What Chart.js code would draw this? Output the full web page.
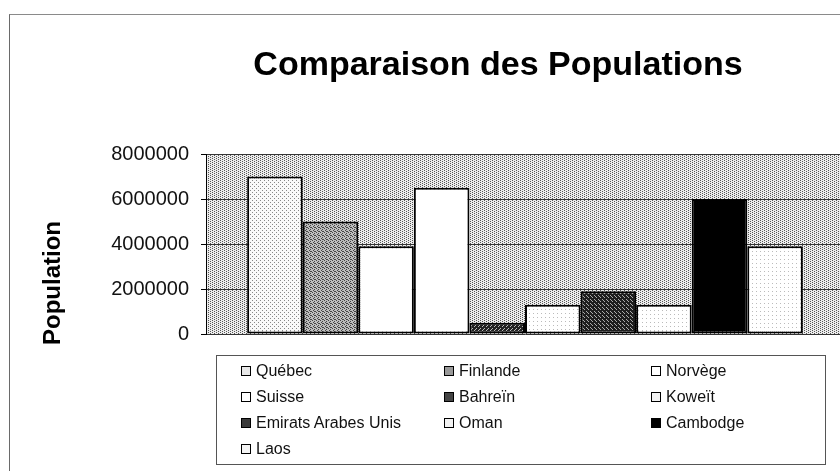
<!DOCTYPE html>
<html>
<head>
<meta charset="utf-8">
<script src="https://cdn.jsdelivr.net/npm/chart.js@4/dist/chart.umd.min.js"></script>
<style>
  html, body { margin:0; padding:0; width:840px; height:471px; overflow:hidden; background:#fff; }
  #wrap { position:absolute; left:0; top:0; width:850px; height:471px; }
  #frame { position:absolute; left:9px; top:14px; width:840px; height:460px; border-top:1px solid #8a8a8a; border-left:1px solid #6a6a6a; box-sizing:border-box; pointer-events:none; }
  #legend { position:absolute; left:216px; top:355px; width:610px; height:110px; border:1px solid #555; box-sizing:border-box;
            display:grid; grid-template-columns:203px 207px 1fr; grid-auto-rows:26px; padding:2px 0 0 24px;
            font-family:"Liberation Sans", Arial, sans-serif; font-size:16px; color:#111; }
  .item { display:flex; align-items:center; }
  .sw { width:8px; height:8px; border:1.5px solid #000; margin-right:5px; flex:none; }
</style>
</head>
<body>
<div id="wrap"><canvas id="c" width="850" height="471"></canvas></div>
<div id="frame"></div>
<div id="legend"></div>
<script>
// ---- data ----
const chartTitle = "Comparaison des Populations";
const yTitle = "Population";
const countries = ["Québec", "Finlande", "Norvège", "Suisse", "Bahreïn", "Koweït", "Emirats Arabes Unis", "Oman", "Cambodge", "Laos"];
const populations = [7000000, 5000000, 3900000, 6500000, 500000, 1300000, 1900000, 1300000, 6000000, 3900000];
const yTickValues = [0, 2000000, 4000000, 6000000, 8000000];

// ---- styles ----
const FONT = '"Liberation Sans", Arial, sans-serif';
function pat(bg, fg, pts, size) {
  const c = document.createElement('canvas'); c.width = c.height = size;
  const g = c.getContext('2d');
  g.fillStyle = bg; g.fillRect(0, 0, size, size);
  g.fillStyle = fg; pts.forEach(p => g.fillRect(p[0], p[1], 1, 1));
  return g.createPattern(c, 'repeat');
}
const plotBg = pat('#ececec', '#555', [[0,0],[2,1],[0,2],[2,3]], 4);
const fills = [
  pat('#fafafa', '#888', [[0,0],[2,2]], 4),
  pat('#bdbdbd', '#444', [[0,0],[2,1],[1,2],[3,3],[2,3]], 4),
  '#ffffff',
  '#ffffff',
  pat('#222', '#bbb', [[0,0],[2,2],[3,1]], 4),
  pat('#ffffff', '#bbb', [[1,1]], 4),
  pat('#1e1e1e', '#aaa', [[0,1],[2,3],[3,0]], 4),
  pat('#ffffff', '#bbb', [[2,2]], 4),
  '#000000',
  pat('#ffffff', '#bbb', [[0,3]], 4)
];
const swatchCss = ['#e8e8e8', '#999', '#fff', '#fff', '#444', '#f2f2f2', '#3a3a3a', '#f2f2f2', '#000', '#f4f4f4'];

const bgPlugin = {
  id: 'plotBg',
  beforeDraw(chart) {
    const a = chart.chartArea, ctx = chart.ctx;
    ctx.save(); ctx.fillStyle = plotBg; ctx.fillRect(a.left, a.top, a.right - a.left, a.bottom - a.top); ctx.restore();
  }
};
const titlesPlugin = {
  id: 'titles',
  afterDraw(chart) {
    const ctx = chart.ctx;
    ctx.save();
    ctx.fillStyle = '#000';
    ctx.textAlign = 'center'; ctx.textBaseline = 'middle';
    ctx.font = 'bold 34px ' + FONT;
    ctx.fillText(chartTitle, 498, 66);
    ctx.translate(53, 283); ctx.rotate(-Math.PI / 2);
    ctx.font = 'bold 24px ' + FONT;
    ctx.fillText(yTitle, 0, 0);
    ctx.restore();
  }
};

const datasets = countries.map((name, i) => ({
  label: name,
  data: [populations[i]],
  backgroundColor: fills[i],
  borderColor: '#000',
  borderWidth: 2,
  borderSkipped: false,
  categoryPercentage: 0.871,
  barPercentage: 1
}));

new Chart(document.getElementById('c'), {
  type: 'bar',
  data: { labels: [''], datasets },
  options: {
    responsive: false,
    animation: false,
    devicePixelRatio: 1,
    layout: { padding: { top: 154, bottom: 137, left: 0, right: 6 } },
    plugins: { legend: { display: false }, title: { display: false }, tooltip: { enabled: false } },
    scales: {
      x: { display: false, offset: true },
      y: {
        min: 0, max: 8000000,
        afterFit(scale) { scale.width = 206; },
        afterBuildTicks(scale) { scale.ticks = yTickValues.map(v => ({ value: v })); },
        ticks: { color: '#111', font: { family: FONT, size: 20 }, padding: 12, callback: v => String(v) },
        grid: { color: '#333', lineWidth: 1, drawTicks: true, tickLength: 5, tickColor: '#000' },
        border: { display: true, color: '#000', width: 1 }
      }
    }
  },
  plugins: [bgPlugin, titlesPlugin]
});

// HTML legend built from the data arrays
const leg = document.getElementById('legend');
countries.forEach((name, i) => {
  const it = document.createElement('div'); it.className = 'item';
  const sw = document.createElement('span'); sw.className = 'sw'; sw.style.background = swatchCss[i];
  const tx = document.createElement('span'); tx.textContent = name;
  it.appendChild(sw); it.appendChild(tx); leg.appendChild(it);
});
</script>
</body>
</html>
